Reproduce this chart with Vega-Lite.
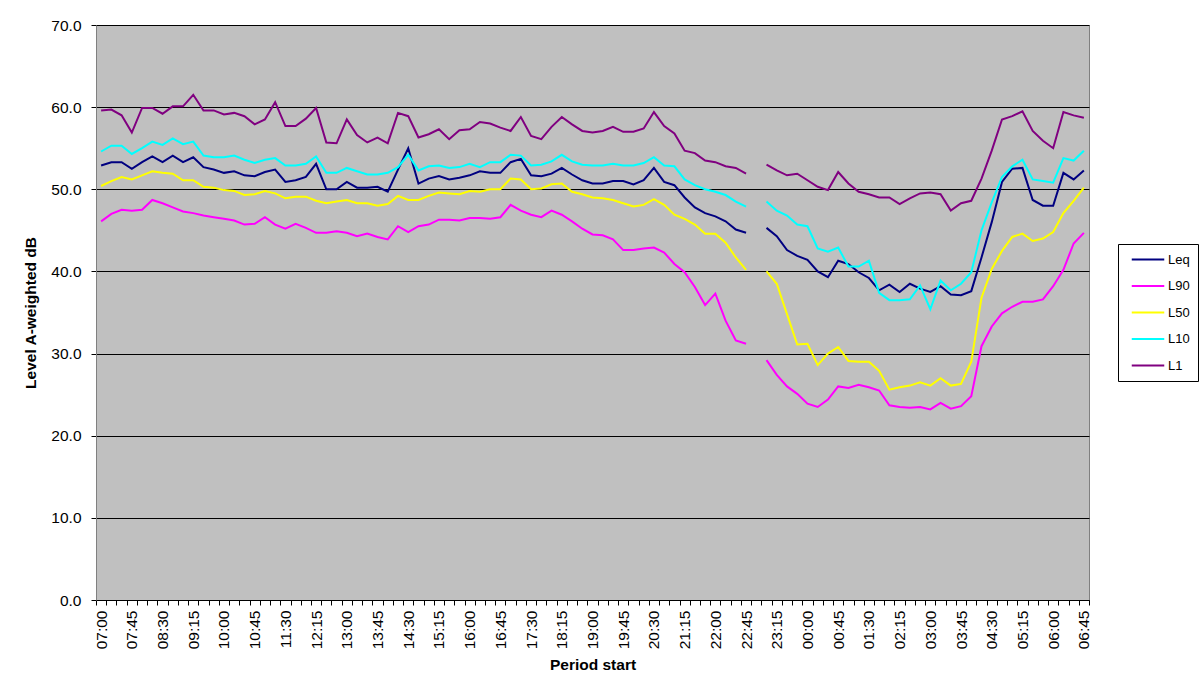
{
  "$schema": "https://vega.github.io/schema/vega-lite/v6.json",
  "width": 993,
  "height": 575,
  "autosize": "none",
  "padding": {"left": 96, "top": 25, "right": 111, "bottom": 97},
  "background": "#ffffff",
  "config": {
    "font": "Liberation Sans",
    "view": {"fill": "#C0C0C0", "stroke": "#808080", "strokeWidth": 1}
  },
  "data": {
    "values": [
      {"t":"07:00","Leq":52.9,"L90":46.1,"L50":50.4,"L10":54.6,"L1":59.6},
      {"t":"07:15","Leq":53.3,"L90":47.0,"L50":51.0,"L10":55.3,"L1":59.7},
      {"t":"07:30","Leq":53.3,"L90":47.5,"L50":51.5,"L10":55.3,"L1":59.0},
      {"t":"07:45","Leq":52.5,"L90":47.4,"L50":51.2,"L10":54.3,"L1":56.9},
      {"t":"08:00","Leq":53.3,"L90":47.5,"L50":51.7,"L10":55.0,"L1":59.9},
      {"t":"08:15","Leq":54.0,"L90":48.7,"L50":52.2,"L10":55.8,"L1":59.9},
      {"t":"08:30","Leq":53.3,"L90":48.3,"L50":52.0,"L10":55.4,"L1":59.2},
      {"t":"08:45","Leq":54.1,"L90":47.8,"L50":51.9,"L10":56.2,"L1":60.1},
      {"t":"09:00","Leq":53.3,"L90":47.3,"L50":51.1,"L10":55.5,"L1":60.1},
      {"t":"09:15","Leq":53.9,"L90":47.1,"L50":51.1,"L10":55.8,"L1":61.5},
      {"t":"09:30","Leq":52.7,"L90":46.8,"L50":50.3,"L10":54.1,"L1":59.6},
      {"t":"09:45","Leq":52.4,"L90":46.6,"L50":50.2,"L10":53.9,"L1":59.6},
      {"t":"10:00","Leq":52.0,"L90":46.4,"L50":49.9,"L10":53.9,"L1":59.1},
      {"t":"10:15","Leq":52.2,"L90":46.2,"L50":49.8,"L10":54.1,"L1":59.3},
      {"t":"10:30","Leq":51.7,"L90":45.7,"L50":49.3,"L10":53.6,"L1":58.9},
      {"t":"10:45","Leq":51.6,"L90":45.8,"L50":49.4,"L10":53.2,"L1":57.9},
      {"t":"11:00","Leq":52.1,"L90":46.6,"L50":49.8,"L10":53.6,"L1":58.5},
      {"t":"11:15","Leq":52.4,"L90":45.7,"L50":49.5,"L10":53.8,"L1":60.6},
      {"t":"11:30","Leq":50.9,"L90":45.2,"L50":48.9,"L10":52.9,"L1":57.7},
      {"t":"11:45","Leq":51.1,"L90":45.8,"L50":49.1,"L10":52.9,"L1":57.7},
      {"t":"12:00","Leq":51.5,"L90":45.3,"L50":49.1,"L10":53.1,"L1":58.6},
      {"t":"12:15","Leq":53.1,"L90":44.7,"L50":48.6,"L10":54.0,"L1":59.9},
      {"t":"12:30","Leq":50.0,"L90":44.7,"L50":48.3,"L10":52.0,"L1":55.7},
      {"t":"12:45","Leq":50.0,"L90":44.9,"L50":48.5,"L10":52.0,"L1":55.6},
      {"t":"13:00","Leq":50.9,"L90":44.7,"L50":48.7,"L10":52.6,"L1":58.5},
      {"t":"13:15","Leq":50.2,"L90":44.3,"L50":48.3,"L10":52.2,"L1":56.6},
      {"t":"13:30","Leq":50.2,"L90":44.6,"L50":48.3,"L10":51.8,"L1":55.7},
      {"t":"13:45","Leq":50.3,"L90":44.2,"L50":48.0,"L10":51.8,"L1":56.3},
      {"t":"14:00","Leq":49.7,"L90":43.9,"L50":48.2,"L10":52.0,"L1":55.6},
      {"t":"14:15","Leq":52.4,"L90":45.5,"L50":49.2,"L10":52.7,"L1":59.3},
      {"t":"14:30","Leq":55.0,"L90":44.8,"L50":48.7,"L10":54.2,"L1":58.9},
      {"t":"14:45","Leq":50.7,"L90":45.5,"L50":48.7,"L10":52.3,"L1":56.3},
      {"t":"15:00","Leq":51.3,"L90":45.7,"L50":49.2,"L10":52.8,"L1":56.7},
      {"t":"15:15","Leq":51.6,"L90":46.3,"L50":49.6,"L10":52.9,"L1":57.3},
      {"t":"15:30","Leq":51.2,"L90":46.3,"L50":49.5,"L10":52.6,"L1":56.1},
      {"t":"15:45","Leq":51.4,"L90":46.2,"L50":49.4,"L10":52.7,"L1":57.2},
      {"t":"16:00","Leq":51.7,"L90":46.5,"L50":49.8,"L10":53.1,"L1":57.3},
      {"t":"16:15","Leq":52.2,"L90":46.5,"L50":49.7,"L10":52.7,"L1":58.2},
      {"t":"16:30","Leq":52.0,"L90":46.4,"L50":50.0,"L10":53.3,"L1":58.0},
      {"t":"16:45","Leq":52.0,"L90":46.6,"L50":50.0,"L10":53.3,"L1":57.5},
      {"t":"17:00","Leq":53.3,"L90":48.1,"L50":51.3,"L10":54.2,"L1":57.1},
      {"t":"17:15","Leq":53.7,"L90":47.4,"L50":51.2,"L10":54.1,"L1":58.8},
      {"t":"17:30","Leq":51.7,"L90":46.9,"L50":50.0,"L10":52.9,"L1":56.5},
      {"t":"17:45","Leq":51.6,"L90":46.6,"L50":50.1,"L10":53.0,"L1":56.1},
      {"t":"18:00","Leq":51.9,"L90":47.4,"L50":50.6,"L10":53.4,"L1":57.6},
      {"t":"18:15","Leq":52.6,"L90":46.9,"L50":50.7,"L10":54.2,"L1":58.8},
      {"t":"18:30","Leq":51.8,"L90":46.1,"L50":49.7,"L10":53.4,"L1":57.9},
      {"t":"18:45","Leq":51.1,"L90":45.2,"L50":49.4,"L10":53.0,"L1":57.1},
      {"t":"19:00","Leq":50.7,"L90":44.5,"L50":49.0,"L10":52.9,"L1":56.9},
      {"t":"19:15","Leq":50.7,"L90":44.4,"L50":48.9,"L10":52.9,"L1":57.1},
      {"t":"19:30","Leq":51.0,"L90":43.9,"L50":48.7,"L10":53.1,"L1":57.6},
      {"t":"19:45","Leq":51.0,"L90":42.6,"L50":48.3,"L10":52.9,"L1":57.0},
      {"t":"20:00","Leq":50.6,"L90":42.6,"L50":47.9,"L10":52.9,"L1":57.0},
      {"t":"20:15","Leq":51.1,"L90":42.8,"L50":48.1,"L10":53.2,"L1":57.4},
      {"t":"20:30","Leq":52.6,"L90":42.9,"L50":48.8,"L10":53.9,"L1":59.4},
      {"t":"20:45","Leq":50.9,"L90":42.3,"L50":48.1,"L10":52.9,"L1":57.7},
      {"t":"21:00","Leq":50.5,"L90":40.9,"L50":46.9,"L10":52.8,"L1":56.8},
      {"t":"21:15","Leq":49.0,"L90":39.9,"L50":46.4,"L10":51.2,"L1":54.7},
      {"t":"21:30","Leq":47.8,"L90":38.1,"L50":45.7,"L10":50.5,"L1":54.4},
      {"t":"21:45","Leq":47.1,"L90":35.9,"L50":44.6,"L10":50.0,"L1":53.5},
      {"t":"22:00","Leq":46.7,"L90":37.3,"L50":44.6,"L10":49.7,"L1":53.3},
      {"t":"22:15","Leq":46.1,"L90":34.0,"L50":43.5,"L10":49.3,"L1":52.8},
      {"t":"22:30","Leq":45.1,"L90":31.6,"L50":41.7,"L10":48.5,"L1":52.6},
      {"t":"22:45","Leq":44.7,"L90":31.2,"L50":40.2,"L10":47.9,"L1":51.9},
      {"t":"23:00","Leq":null,"L90":null,"L50":null,"L10":null,"L1":null},
      {"t":"23:05","Leq":45.3,"L90":29.2,"L50":40.0,"L10":48.5,"L1":53.0},
      {"t":"23:15","Leq":44.3,"L90":27.4,"L50":38.5,"L10":47.4,"L1":52.3},
      {"t":"23:30","Leq":42.6,"L90":26.0,"L50":34.8,"L10":46.8,"L1":51.7},
      {"t":"23:45","Leq":41.9,"L90":25.1,"L50":31.1,"L10":45.7,"L1":51.9},
      {"t":"00:00","Leq":41.4,"L90":23.9,"L50":31.2,"L10":45.5,"L1":51.1},
      {"t":"00:15","Leq":40.0,"L90":23.5,"L50":28.6,"L10":42.8,"L1":50.3},
      {"t":"00:30","Leq":39.3,"L90":24.4,"L50":30.0,"L10":42.4,"L1":49.9},
      {"t":"00:45","Leq":41.3,"L90":26.0,"L50":30.8,"L10":42.9,"L1":52.1},
      {"t":"01:00","Leq":40.9,"L90":25.8,"L50":29.1,"L10":40.6,"L1":50.7},
      {"t":"01:15","Leq":39.9,"L90":26.2,"L50":29.0,"L10":40.6,"L1":49.7},
      {"t":"01:30","Leq":39.2,"L90":25.9,"L50":29.0,"L10":41.3,"L1":49.4},
      {"t":"01:45","Leq":37.7,"L90":25.5,"L50":27.9,"L10":37.4,"L1":49.0},
      {"t":"02:00","Leq":38.4,"L90":23.7,"L50":25.6,"L10":36.5,"L1":49.0},
      {"t":"02:15","Leq":37.5,"L90":23.5,"L50":25.9,"L10":36.5,"L1":48.2},
      {"t":"02:30","Leq":38.5,"L90":23.4,"L50":26.1,"L10":36.6,"L1":48.9},
      {"t":"02:45","Leq":37.9,"L90":23.5,"L50":26.5,"L10":38.3,"L1":49.5},
      {"t":"03:00","Leq":37.5,"L90":23.2,"L50":26.1,"L10":35.4,"L1":49.6},
      {"t":"03:15","Leq":38.2,"L90":24.0,"L50":27.0,"L10":38.9,"L1":49.4},
      {"t":"03:30","Leq":37.2,"L90":23.3,"L50":26.1,"L10":37.7,"L1":47.4},
      {"t":"03:45","Leq":37.1,"L90":23.6,"L50":26.3,"L10":38.5,"L1":48.3},
      {"t":"04:00","Leq":37.6,"L90":24.8,"L50":29.0,"L10":39.9,"L1":48.6},
      {"t":"04:15","Leq":41.7,"L90":30.9,"L50":36.8,"L10":45.0,"L1":51.3},
      {"t":"04:30","Leq":46.0,"L90":33.3,"L50":40.3,"L10":48.4,"L1":54.7},
      {"t":"04:45","Leq":50.9,"L90":34.9,"L50":42.5,"L10":51.5,"L1":58.5},
      {"t":"05:00","Leq":52.5,"L90":35.7,"L50":44.2,"L10":52.8,"L1":58.9},
      {"t":"05:15","Leq":52.6,"L90":36.3,"L50":44.6,"L10":53.6,"L1":59.5},
      {"t":"05:30","Leq":48.7,"L90":36.3,"L50":43.7,"L10":51.2,"L1":57.1},
      {"t":"05:45","Leq":48.0,"L90":36.6,"L50":44.0,"L10":51.0,"L1":55.9},
      {"t":"06:00","Leq":48.0,"L90":38.2,"L50":44.8,"L10":50.8,"L1":55.0},
      {"t":"06:15","Leq":52.0,"L90":40.2,"L50":47.1,"L10":53.8,"L1":59.4},
      {"t":"06:30","Leq":51.2,"L90":43.4,"L50":48.6,"L10":53.5,"L1":59.0},
      {"t":"06:45","Leq":52.3,"L90":44.7,"L50":50.2,"L10":54.7,"L1":58.7}
    ]
  },
  "transform": [
    {"fold": ["Leq", "L90", "L50", "L10", "L1"], "as": ["series", "level"]}
  ],
  "mark": {"type": "line", "strokeWidth": 2, "invalid": "break-paths-show-domains"},
  "encoding": {
    "x": {
      "field": "t",
      "type": "ordinal",
      "sort": null,
      "bandPosition": 0.5,
      "scale": {
        "type": "band",
        "paddingInner": 0,
        "paddingOuter": 0,
        "domain": ["07:00","07:15","07:30","07:45","08:00","08:15","08:30","08:45","09:00","09:15","09:30","09:45","10:00","10:15","10:30","10:45","11:00","11:15","11:30","11:45","12:00","12:15","12:30","12:45","13:00","13:15","13:30","13:45","14:00","14:15","14:30","14:45","15:00","15:15","15:30","15:45","16:00","16:15","16:30","16:45","17:00","17:15","17:30","17:45","18:00","18:15","18:30","18:45","19:00","19:15","19:30","19:45","20:00","20:15","20:30","20:45","21:00","21:15","21:30","21:45","22:00","22:15","22:30","22:45","23:00","23:05","23:15","23:30","23:45","00:00","00:15","00:30","00:45","01:00","01:15","01:30","01:45","02:00","02:15","02:30","02:45","03:00","03:15","03:30","03:45","04:00","04:15","04:30","04:45","05:00","05:15","05:30","05:45","06:00","06:15","06:30","06:45"]
      },
      "axis": {
        "title": "Period start",
        "titleFont": "Liberation Sans",
        "titleFontSize": 15.5,
        "titleFontWeight": "bold",
        "titleColor": "#000000",
        "titlePadding": 9,
        "labelExpr": "indexof(['07:00','07:45','08:30','09:15','10:00','10:45','11:30','12:15','13:00','13:45','14:30','15:15','16:00','16:45','17:30','18:15','19:00','19:45','20:30','21:15','22:00','22:45','23:15','00:00','00:45','01:30','02:15','03:00','03:45','04:30','05:15','06:00','06:45'], datum.value) >= 0 ? datum.value : ''",
        "labelOverlap": false,
        "labelAngle": 270,
        "labelAlign": "right",
        "labelBaseline": "middle",
        "labelFont": "Liberation Sans",
        "labelFontSize": 15.5,
        "labelColor": "#000000",
        "labelPadding": 5,
        "tickBand": "extent",
        "tickSize": 5,
        "tickColor": "#000000",
        "domainColor": "#000000",
        "grid": false
      }
    },
    "y": {
      "field": "level",
      "type": "quantitative",
      "scale": {"domain": [0, 70], "nice": false, "zero": true},
      "axis": {
        "title": "Level A-weighted dB",
        "titleFont": "Liberation Sans",
        "titleFontSize": 15.5,
        "titleFontWeight": "bold",
        "titleColor": "#000000",
        "titlePadding": 12,
        "values": [0, 10, 20, 30, 40, 50, 60, 70],
        "format": ".1f",
        "labelFont": "Liberation Sans",
        "labelFontSize": 15.5,
        "labelColor": "#000000",
        "labelPadding": 10,
        "tickSize": 5,
        "tickColor": "#000000",
        "domainColor": "#808080",
        "grid": true,
        "gridColor": "#000000",
        "gridOpacity": 1,
        "gridWidth": 1
      }
    },
    "color": {
      "field": "series",
      "type": "nominal",
      "scale": {
        "domain": ["Leq", "L90", "L50", "L10", "L1"],
        "range": ["#000080", "#FF00FF", "#FFFF00", "#00FFFF", "#800080"]
      },
      "legend": {
        "title": null,
        "orient": "none",
        "legendX": 1022,
        "legendY": 219,
        "padding": 8,
        "strokeColor": "#000000",
        "fillColor": "#ffffff",
        "symbolType": "M-2.5,0H2.5",
        "symbolSize": 169,
        "symbolStrokeWidth": 2,
        "symbolOffset": 14.5,
        "labelOffset": 12.5,
        "labelFont": "Liberation Sans",
        "labelFontSize": 13,
        "labelColor": "#000000",
        "rowPadding": 11.5
      }
    }
  }
}
